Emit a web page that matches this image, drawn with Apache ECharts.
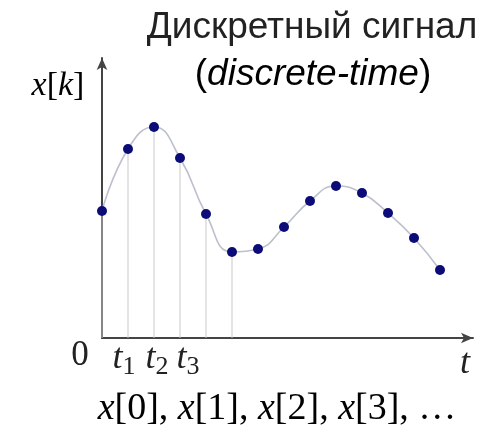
<!DOCTYPE html>
<html>
<head>
<meta charset="utf-8">
<script src="https://cdn.jsdelivr.net/npm/echarts@6/dist/echarts.min.js"></script>
<style>html,body{margin:0;padding:0;background:#fff}#c{width:488px;height:432px}</style>
</head>
<body>
<div id="c"></div>
<script>
// sample index k
var sampleK = [0, 1, 2, 3, 4, 5, 6, 7, 8, 9, 10, 11, 12, 13];
// sample values x[k]
var sampleValues = [6.35, 9.45, 10.55, 9.0, 6.2, 4.3, 4.45, 5.55, 6.85, 7.6, 7.25, 6.25, 5.0, 3.4];
// samples that have a vertical stem drawn
var stemCount = 6;
// tick labels on the time axis
var tickValues = [0, 1, 2, 3];
var tickLabels = ['0', 't|1', 't|2', 't|3'];

var titleLine1 = 'Дискретный сигнал';
var titleLine2 = 'discrete-time';
var bottomText = ['x[0], ', 'x[1], ', 'x[2], ', 'x[3], '];

var points = sampleK.map(function (k, i) { return [k, sampleValues[i]]; });
var stems = points.slice(0, stemCount);

var serif = '"Liberation Serif", "DejaVu Serif", serif';
var sans = '"Liberation Sans", Arial, sans-serif';
var ink = '#222';

function bracketRich(s) {
  var m = s.match(/^(\w)\[(\w)\](.*)$/);
  var inner = /\d/.test(m[2]) ? '{u|' + m[2] + '}' : '{i|' + m[2] + '}';
  return '{i|' + m[1] + '}{u|[}' + inner + '{u|]' + m[3] + '}';
}

// small per-label horizontal nudges (padding) for the t_k labels
var labelPad = [[0, 44, 0, 0], [0, 8, 0, 0], [0, 0, 0, 6], [0, 0, 0, 16]];
var axisRich = {};
tickValues.forEach(function (v, i) {
  axisRich['z' + i] = { fontFamily: serif, fontSize: 35, color: ink, padding: labelPad[i] };
  axisRich['t' + i] = { fontFamily: serif, fontStyle: 'italic', fontSize: 36, color: ink,
    padding: [0, 0, 0, labelPad[i][3]] };
  axisRich['s' + i] = { fontFamily: serif, fontSize: 26, color: ink,
    padding: [16, labelPad[i][1], 0, 0] };
});

var chart = echarts.init(document.getElementById('c'));
chart.setOption({
  animation: false,
  backgroundColor: '#fff',
  grid: { left: 102, right: 15, top: 58, bottom: 94 },
  xAxis: {
    type: 'value', min: 0, max: 14.27,
    axisLine: { show: true, onZero: false, symbol: ['none', 'arrow'], symbolSize: [8, 12],
      lineStyle: { color: '#444', width: 2 } },
    axisTick: { show: false },
    splitLine: { show: false },
    axisLabel: {
      customValues: tickValues,
      margin: 0,
      formatter: function (v) {
        var i = tickValues.indexOf(v);
        var s = tickLabels[i];
        if (s.indexOf('|') < 0) return '{z' + i + '|' + s + '}';
        var p = s.split('|');
        return '{t' + i + '|' + p[0] + '}{s' + i + '|' + p[1] + '}';
      },
      rich: axisRich
    }
  },
  yAxis: {
    type: 'value', min: 0, max: 14,
    axisLine: { show: true, onZero: false, symbol: ['none', 'arrow'], symbolSize: [8, 12],
      lineStyle: { color: '#444', width: 2 } },
    axisTick: { show: false },
    splitLine: { show: false },
    axisLabel: { show: false }
  },
  series: [
    {
      type: 'bar', data: stems, barWidth: 1, z: 1,
      itemStyle: { color: '#c9c9c9' }, silent: true
    },
    {
      type: 'line', data: points, smooth: true, z: 3,
      lineStyle: { color: '#bcc0cc', width: 1.6 },
      symbol: 'circle', symbolSize: 10,
      itemStyle: { color: '#0c0c78' }
    }
  ],
  graphic: [
    { type: 'text', x: 312, y: 28, style: { text: titleLine1, font: '37px ' + sans, fill: ink, textAlign: 'center', textVerticalAlign: 'middle' } },
    { type: 'text', x: 313, y: 75, style: {
        text: '{u|(}{i|' + titleLine2 + '}{u|)}', textAlign: 'center', textVerticalAlign: 'middle',
        rich: {
          u: { fontFamily: sans, fontSize: 37, color: ink },
          i: { fontFamily: sans, fontStyle: 'italic', fontSize: 37, color: ink }
        } } },
    { type: 'text', x: 58, y: 86, style: {
        text: bracketRich('x[k]'), textAlign: 'center', textVerticalAlign: 'middle',
        rich: {
          u: { fontFamily: serif, fontSize: 34, color: ink },
          i: { fontFamily: serif, fontStyle: 'italic', fontSize: 34, color: ink }
        } } },
    { type: 'text', x: 465, y: 364, style: { text: 't', font: 'italic 36px ' + serif, fill: ink, textAlign: 'center', textVerticalAlign: 'middle' } },
    { type: 'text', x: 277, y: 409, style: {
        text: bottomText.map(bracketRich).join('') + '{u|…}', textAlign: 'center', textVerticalAlign: 'middle',
        rich: {
          u: { fontFamily: serif, fontSize: 38, color: ink },
          i: { fontFamily: serif, fontStyle: 'italic', fontSize: 38, color: ink }
        } } }
  ]
});
</script>
</body>
</html>
